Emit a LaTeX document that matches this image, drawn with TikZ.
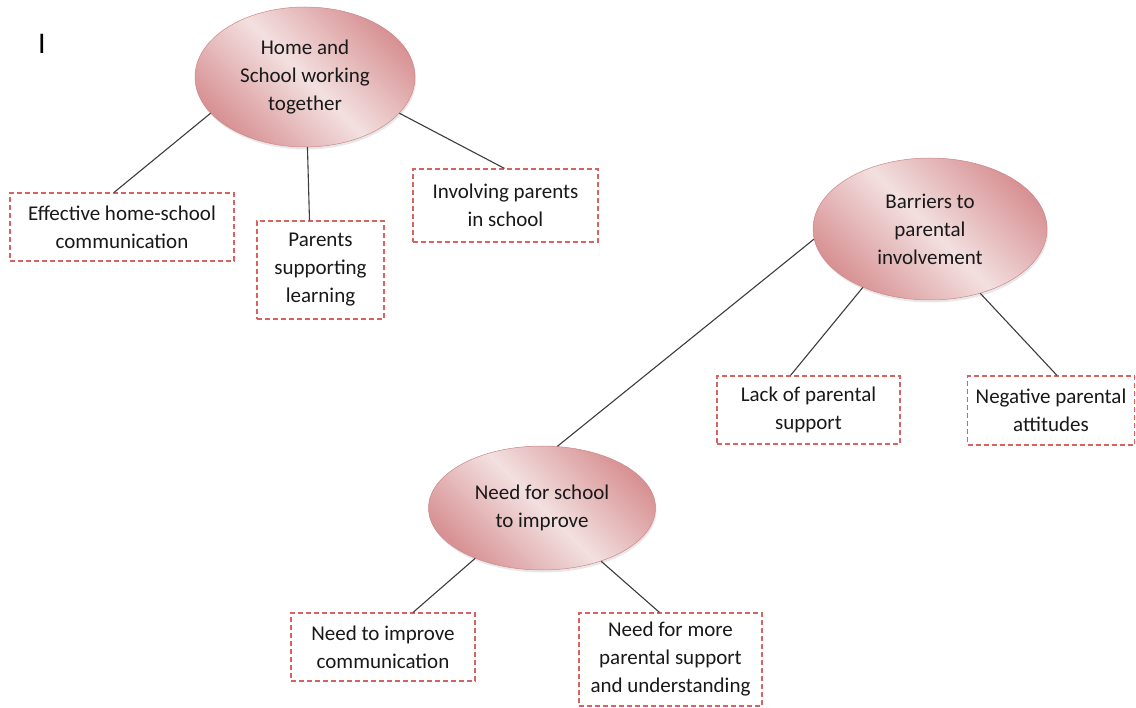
\documentclass[tikz,border=0pt]{standalone}
\usepackage{fontspec}
\setmainfont{Carlito}
\usetikzlibrary{shapes.geometric,shadows}
\definecolor{pinklight}{RGB}{243,224,224}
\definecolor{pinkdark}{RGB}{216,146,148}
\definecolor{ovalline}{RGB}{205,135,137}
\definecolor{boxred}{RGB}{214,98,98}
\definecolor{linkgray}{RGB}{60,60,60}
\begin{document}
\begin{tikzpicture}[x=1pt,y=-1pt,
  txt/.style={font=\fontsize{21}{28}\selectfont, align=center, text=black!90},
  topic/.style={txt, ellipse, draw=ovalline, line width=0.5pt, inner sep=0pt,
    shade, left color=pinkdark, right color=pinkdark, middle color=pinklight,
    shading angle=-45,
    drop shadow={opacity=0.18, shadow xshift=1pt, shadow yshift=-2.5pt}},
  leaf/.style={txt, rectangle, draw=boxred, line width=1.1pt,
    dash pattern=on 5pt off 3pt, fill=white, inner sep=0pt},
  link/.style={draw=linkgray, line width=1.1pt}]
\useasboundingbox (0,0) rectangle (1136,708);

\node[font=\fontsize{30}{30}\selectfont] (mark) at (42,44) {I};

% central topics
\node[topic, minimum width=220pt, minimum height=140pt] (home) at (305,77)
  {Home and\\School working\\together};
\node[topic, minimum width=234pt, minimum height=142pt] (barriers) at (930,229)
  {Barriers to\\parental\\involvement};
\node[topic, minimum width=227pt, minimum height=124pt] (improve) at (542,508)
  {Need for school\\to improve};

% leaves
\node[leaf, minimum width=224pt, minimum height=68pt] (comm) at (122,227)
  {Effective home-school\\communication};
\node[leaf, minimum width=127pt, minimum height=98pt] (learn) at (320.5,270)
  {Parents\\supporting\\learning};
\node[leaf, minimum width=185pt, minimum height=73pt] (involve) at (505.5,205.5)
  {Involving parents\\in school};
\node[leaf, minimum width=183pt, minimum height=68pt] (lack) at (808.5,410)
  {Lack of parental\\support};
\node[leaf, minimum width=167pt, minimum height=69pt] (negative) at (1051,410.5)
  {Negative parental\\attitudes};
\node[leaf, minimum width=184pt, minimum height=68pt] (impcomm) at (383,647)
  {Need to improve\\communication};
\node[leaf, minimum width=183pt, minimum height=93pt] (moresup) at (670.5,659.5)
  {Need for more\\parental support\\and understanding};

% connectors
\draw[link] (home.201) -- ([xshift=-8pt]comm.north);
\draw[link] (home.272) -- ([xshift=-11pt]learn.north);
\draw[link] (home.339) -- ([xshift=-1pt]involve.north);
\draw[link] (barriers.185) -- (improve.76);
\draw[link] (barriers.221) -- ([xshift=-18pt]lack.north);
\draw[link] (barriers.308) -- ([xshift=6pt]negative.north);
\draw[link] (improve.217) -- ([xshift=30pt]impcomm.north);
\draw[link] (improve.318) -- ([xshift=-11pt]moresup.north);
\end{tikzpicture}
\end{document}
